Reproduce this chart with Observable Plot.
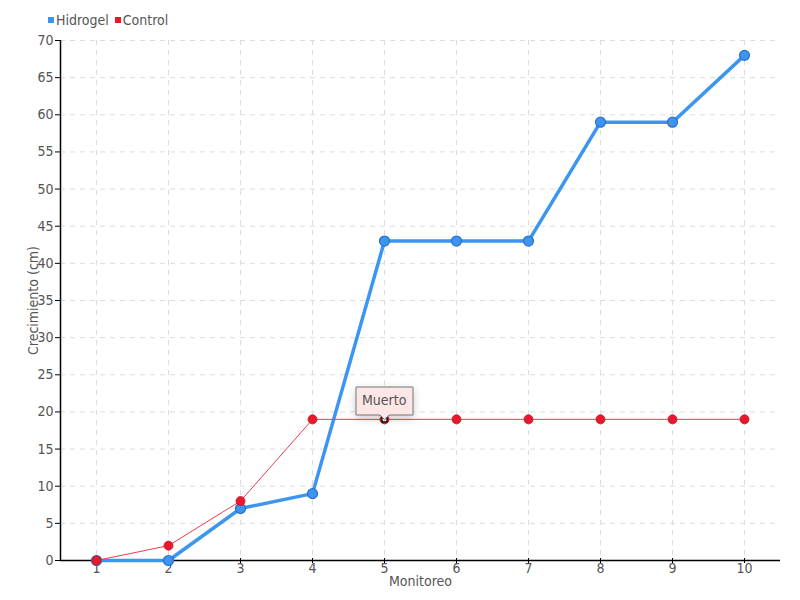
<!DOCTYPE html>
<html>
<head>
<meta charset="utf-8">
<script src="https://cdn.jsdelivr.net/npm/d3@7"></script>
<script src="https://cdn.jsdelivr.net/npm/@observablehq/plot@0.6"></script>
<style>
  html, body { margin: 0; padding: 0; background: #fff; }
  #wrap { position: relative; width: 800px; height: 600px; }
  #legend { position: absolute; left: 48px; top: 12px; font-family: "DejaVu Sans Condensed", "DejaVu Sans", sans-serif; font-size: 14px; color: #555; display: flex; gap: 6px; align-items: center; }
  #legend span.sw { display: inline-block; width: 6px; height: 6px; margin-right: 2px; vertical-align: middle; }
  #legend .item { display: flex; align-items: center; }
</style>
</head>
<body>
<div id="wrap">
  <div id="legend"></div>
  <div id="chart"></div>
</div>
<script>
const monitoreo = [1, 2, 3, 4, 5, 6, 7, 8, 9, 10];
const hidrogel = [0, 0, 7, 9, 43, 43, 43, 59, 59, 68];
const control = [0, 2, 8, 19, 19, 19, 19, 19, 19, 19];
const yTicks = [0, 5, 10, 15, 20, 25, 30, 35, 40, 45, 50, 55, 60, 65, 70];
const seriesNames = ["Hidrogel", "Control"];
const seriesColors = ["#3d95f2", "#e8192c"];
const annotation = [{x: 5, y: 19, text: "Muerto"}];

const hData = monitoreo.map((m, i) => ({x: m, y: hidrogel[i]}));
const cData = monitoreo.map((m, i) => ({x: m, y: control[i]}));

const legend = document.getElementById("legend");
seriesNames.forEach((n, i) => {
  const it = document.createElement("div");
  it.className = "item";
  it.innerHTML = `<span class="sw" style="background:${seriesColors[i]}"></span>${n}`;
  legend.appendChild(it);
});

let tipMark;
try {
  tipMark = Plot.tip(annotation, {x: "x", y: "y", title: "text", anchor: "bottom", fill: "#fde6e6", stroke: "#777", fontSize: 14, pointerSize: 9, textPadding: 6});
} catch (e) { tipMark = null; }

const chart = Plot.plot({
  width: 800,
  height: 600,
  marginLeft: 60,
  marginRight: 20,
  marginTop: 40,
  marginBottom: 40,
  style: {fontFamily: "DejaVu Sans Condensed, DejaVu Sans, sans-serif", fontSize: "14px", color: "#555", background: "#fff"},
  x: {domain: [0.5, 10.5], axis: null},
  y: {domain: [0, 70], axis: null},
  marks: [
    Plot.gridY(yTicks, {stroke: "#dcdcdc", strokeOpacity: 1, strokeDasharray: "5,5"}),
    Plot.gridX(monitoreo, {stroke: "#dcdcdc", strokeOpacity: 1, strokeDasharray: "5,5"}),
    Plot.axisY(yTicks, {tickSize: 5, tickPadding: 2, stroke: "#000", fill: "#555", label: null, fontSize: 14}),
    Plot.axisX(monitoreo, {tickSize: 5, tickPadding: 0, dy: -2, stroke: "#000", fill: "#555", label: null, fontSize: 14}),
    Plot.ruleX([0.5], {stroke: "#000", strokeWidth: 1.5}),
    Plot.ruleY([0], {stroke: "#000", strokeWidth: 1.5}),
    Plot.text(["Crecimiento (cm)"], {frameAnchor: "left", textAnchor: "middle", lineAnchor: "middle", dx: -27, rotate: -90, fill: "#555", fontSize: 14}),
    Plot.text(["Monitoreo"], {frameAnchor: "bottom", textAnchor: "middle", lineAnchor: "middle", dy: 21, fill: "#555", fontSize: 14}),
    Plot.line(hData, {x: "x", y: "y", stroke: seriesColors[0], strokeWidth: 3.5}),
    Plot.dot(hData, {x: "x", y: "y", r: 5, fill: seriesColors[0], stroke: "#2a70c8", strokeWidth: 1.2}),
    Plot.line(cData, {x: "x", y: "y", stroke: "#f03a4c", strokeWidth: 1}),
    Plot.dot(cData, {x: "x", y: "y", r: 4.5, fill: seriesColors[1], stroke: "#c8101e", strokeWidth: 0.8}),
    Plot.dot(annotation, {x: "x", y: "y", symbol: "square", r: 2.8, fill: "#fff", stroke: "#000", strokeWidth: 1.2}),
    ...(tipMark ? [tipMark] : [])
  ]
});
document.getElementById("chart").appendChild(chart);
</script>
</body>
</html>
